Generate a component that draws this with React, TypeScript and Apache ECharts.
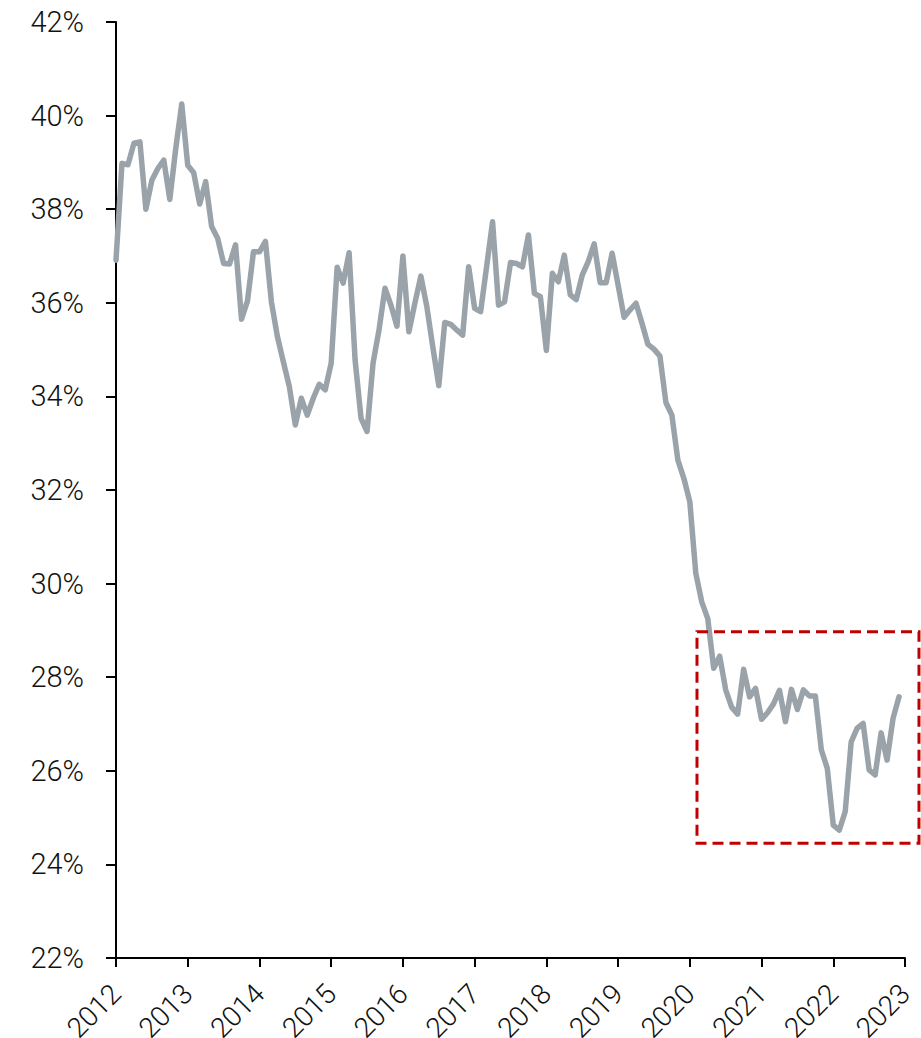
import React, { useEffect, useRef } from "react";
import * as echarts from "echarts";

// Monthly values (%), Jan..Dec of each year
const y2012 = [36.91, 38.98, 38.95, 39.41, 39.44, 38.0, 38.62, 38.87, 39.05, 38.21, 39.3, 40.25];
const y2013 = [38.94, 38.78, 38.11, 38.59, 37.63, 37.38, 36.84, 36.83, 37.24, 35.65, 36.04, 37.09];
const y2014 = [37.09, 37.31, 36.02, 35.28, 34.74, 34.21, 33.39, 33.96, 33.6, 33.96, 34.26, 34.14];
const y2015 = [34.71, 36.76, 36.42, 37.07, 34.78, 33.53, 33.25, 34.71, 35.42, 36.31, 35.95, 35.5];
const y2016 = [37.0, 35.38, 35.99, 36.57, 35.92, 35.06, 34.23, 35.58, 35.54, 35.42, 35.31, 36.77];
const y2017 = [35.88, 35.81, 36.77, 37.73, 35.95, 36.02, 36.86, 36.84, 36.77, 37.45, 36.2, 36.13];
const y2018 = [34.98, 36.63, 36.45, 37.02, 36.17, 36.07, 36.59, 36.88, 37.26, 36.43, 36.43, 37.06];
const y2019 = [36.38, 35.69, 35.85, 35.99, 35.56, 35.11, 35.01, 34.86, 33.87, 33.6, 32.64, 32.25];
const y2020 = [31.75, 30.22, 29.61, 29.25, 28.19, 28.45, 27.73, 27.36, 27.21, 28.17, 27.58, 27.76];
const y2021 = [27.1, 27.24, 27.43, 27.72, 27.05, 27.74, 27.31, 27.73, 27.6, 27.6, 26.45, 26.05];
const y2022 = [24.84, 24.73, 25.13, 26.62, 26.91, 27.01, 26.02, 25.91, 26.81, 26.23, 27.12, 27.58];

const years = [2012, 2013, 2014, 2015, 2016, 2017, 2018, 2019, 2020, 2021, 2022];
const yearValues = [y2012, y2013, y2014, y2015, y2016, y2017, y2018, y2019, y2020, y2021, y2022];

// Highlight box (data coordinates)
const boxFrom = [2020.1, 28.97];
const boxTo = [2023.195, 24.45];

const FONT = "'Helvetica Neue', Roboto, 'Liberation Sans', sans-serif";

export default function App() {
  const ref = useRef<HTMLDivElement>(null);
  useEffect(() => {
    if (!ref.current) return;
    const chart = echarts.init(ref.current, undefined, { renderer: "svg" });
    const data: number[][] = [];
    years.forEach((yr, i) => {
      yearValues[i].forEach((v, m) => data.push([yr + m / 12, v]));
    });
    const axisLine = { show: true, lineStyle: { color: "#000", width: 2 } };
    chart.setOption({
      animation: false,
      backgroundColor: "#fff",
      grid: {
        left: 116,
        right: 16,
        top: 22,
        bottom: 80,
        containLabel: false,
        outerBoundsMode: "none",
      },
      xAxis: {
        type: "value",
        min: 2012,
        max: 2023,
        interval: 1,
        axisLine,
        axisTick: { show: true, inside: false, length: 9, lineStyle: { color: "#000", width: 2 } },
        splitLine: { show: false },
        axisLabel: {
          rotate: 45,
          margin: 31,
          fontSize: 28,
          lineHeight: 20,
          fontWeight: 300,
          fontFamily: FONT,
          color: "#111",
          formatter: (v: number) => String(v),
        },
      },
      yAxis: {
        type: "value",
        min: 22,
        max: 42,
        interval: 2,
        axisLine,
        axisTick: { show: true, inside: false, length: 10, lineStyle: { color: "#000", width: 2 } },
        splitLine: { show: false },
        axisLabel: {
          margin: 32,
          fontSize: 29,
          fontWeight: 300,
          fontFamily: FONT,
          color: "#111",
          formatter: "{value}%",
        },
      },
      series: [
        {
          type: "line",
          data,
          showSymbol: false,
          symbol: "none",
          lineStyle: { color: "#9aa3a9", width: 5.5, join: "round", cap: "round" },
          z: 3,
        },
      ],
    });
    const p0 = chart.convertToPixel({ gridIndex: 0 }, boxFrom) as number[];
    const p1 = chart.convertToPixel({ gridIndex: 0 }, boxTo) as number[];
    chart.setOption({
      graphic: [
        {
          type: "rect",
          z: 10,
          shape: {
            x: Math.min(p0[0], p1[0]),
            y: Math.min(p0[1], p1[1]),
            width: Math.abs(p1[0] - p0[0]),
            height: Math.abs(p1[1] - p0[1]),
          },
          style: { fill: "none", stroke: "#c00000", lineWidth: 3, lineDash: [11, 6] },
        },
      ],
    });
    return () => chart.dispose();
  }, []);
  return (
    <div
      ref={ref}
      style={{ position: "fixed", left: 0, top: 0, width: 921, height: 1038, background: "#fff" }}
    />
  );
}
